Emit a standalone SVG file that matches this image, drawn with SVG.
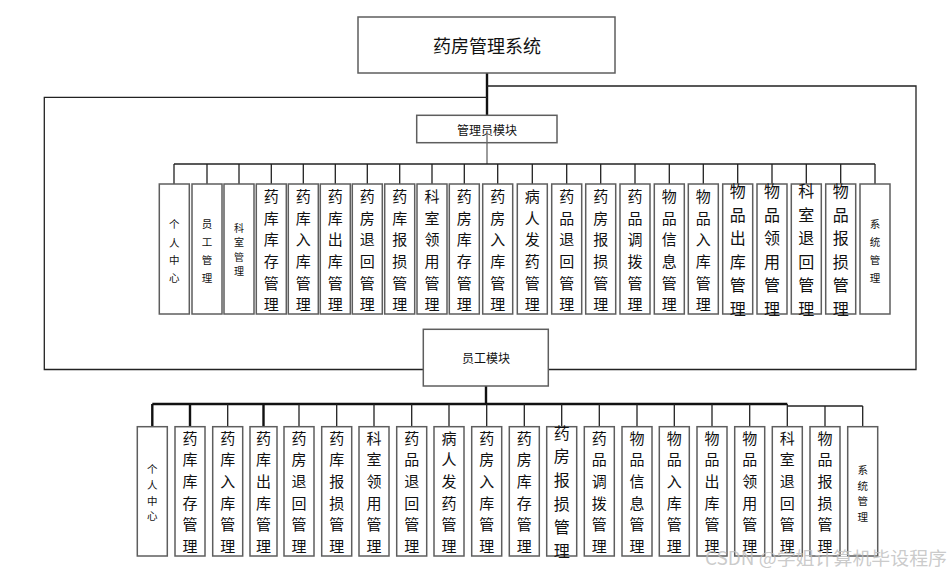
<svg xmlns="http://www.w3.org/2000/svg" width="950" height="575" viewBox="0 0 950 575">
<style>
.box{fill:#fff;stroke:#5e5e5e;stroke-width:1.5}
.ln{fill:none;stroke:#222;stroke-width:1.3}
.thk{fill:none;stroke:#111;stroke-width:2.4}
.t{font-family:"Noto Sans CJK SC","Noto Sans CJK JP",sans-serif;fill:#111;text-anchor:middle;dominant-baseline:central}
.b{font-size:15px}
.c{font-size:16px}
.s{font-size:10.5px}
.m{font-size:12px}
</style>
<g id="connectors">
<path class="thk" d="M487 73V115"/>
<path class="ln" d="M487 86H916V369.5H548"/>
<path class="ln" d="M487 97.3H44.3V369.5H423"/>
<path class="ln" style="stroke:#666" d="M487 132V164"/>
<path class="ln" d="M174 164H875"/>
<path class="ln" d="M174 164V184M207 164V184M239 164V184M271.3 164V184M303.3 164V184M335.3 164V184M367.3 164V184M399.7 164V184M432 164V184M464.3 164V184M497.7 164V184M532.3 164V184M566.7 164V184M600.7 164V184M635 164V184M669.3 164V184M703.3 164V184M737.7 164V184M772 164V184M806.3 164V184M840.7 164V184M875 164V184"/>
<path class="thk" d="M486 386V404"/>
<path class="thk" d="M152.3 404H787.3"/>
<path class="ln" d="M787.3 404V426.7"/>
<path class="ln" d="M787.3 406H862.7"/>
<path class="thk" d="M152.3 404V426.7M190 404V426.7M263.5 404V426.7"/>
<path class="ln" d="M227.7 404V426.7M299 404V426.7M336.7 404V426.7M374 404V426.7M411.7 404V426.7M449 404V426.7M486.7 404V426.7M524.3 404V426.7M561.7 404V426.7M599.3 404V426.7M637 404V426.7M674.3 404V426.7M712 404V426.7M749.7 404V426.7M825 406V426.7M862.7 406V426.7"/>
</g>
<g id="root"><rect class="box" x="358" y="17" width="257" height="56"/><text class="t" x="487" y="45" font-size="18">药房管理系统</text></g>
<g id="admin"><rect class="box" x="416.7" y="115.3" width="140.3" height="27.4"/><text class="t m" x="487" y="129.3">管理员模块</text></g>
<path class="ln" style="stroke:#666" d="M487 133V143"/>
<g id="staff"><rect class="box" x="423.3" y="329.3" width="125" height="56.7"/><text class="t m" x="486" y="357.7">员工模块</text></g>

<g id="a1"><rect class="box" x="159.3" y="184" width="30" height="130"/><text class="t s"><tspan x="174.3" y="222.7">个</tspan><tspan x="174.3" y="241.7">人</tspan><tspan x="174.3" y="259">中</tspan><tspan x="174.3" y="277.3">心</tspan></text></g>
<g id="a2"><rect class="box" x="192" y="184" width="30" height="130"/><text class="t s"><tspan x="207" y="223.3">员</tspan><tspan x="207" y="241">工</tspan><tspan x="207" y="259.3">管</tspan><tspan x="207" y="276.7">理</tspan></text></g>
<g id="a3"><rect class="box" x="224" y="184" width="30" height="130"/><text class="t" font-size="10"><tspan x="239" y="226.7">科</tspan><tspan x="239" y="241.3">室</tspan><tspan x="239" y="255.7">管</tspan><tspan x="239" y="270">理</tspan></text></g>
<g id="a4"><rect class="box" x="256.3" y="184" width="30" height="130"/><text class="t b"><tspan x="271.3" y="195">药</tspan><tspan x="271.3" y="216.7">库</tspan><tspan x="271.3" y="238.3">库</tspan><tspan x="271.3" y="260">存</tspan><tspan x="271.3" y="281.7">管</tspan><tspan x="271.3" y="303.3">理</tspan></text></g>
<g id="a5"><rect class="box" x="288.3" y="184" width="30" height="130"/><text class="t b"><tspan x="303.3" y="195">药</tspan><tspan x="303.3" y="216.7">库</tspan><tspan x="303.3" y="238.3">入</tspan><tspan x="303.3" y="260">库</tspan><tspan x="303.3" y="281.7">管</tspan><tspan x="303.3" y="303.3">理</tspan></text></g>
<g id="a6"><rect class="box" x="320.3" y="184" width="30" height="130"/><text class="t b"><tspan x="335.3" y="195">药</tspan><tspan x="335.3" y="216.7">库</tspan><tspan x="335.3" y="238.3">出</tspan><tspan x="335.3" y="260">库</tspan><tspan x="335.3" y="281.7">管</tspan><tspan x="335.3" y="303.3">理</tspan></text></g>
<g id="a7"><rect class="box" x="352.3" y="184" width="30" height="130"/><text class="t b"><tspan x="367.3" y="195">药</tspan><tspan x="367.3" y="216.7">房</tspan><tspan x="367.3" y="238.3">退</tspan><tspan x="367.3" y="260">回</tspan><tspan x="367.3" y="281.7">管</tspan><tspan x="367.3" y="303.3">理</tspan></text></g>
<g id="a8"><rect class="box" x="384.7" y="184" width="30" height="130"/><text class="t b"><tspan x="399.7" y="195">药</tspan><tspan x="399.7" y="216.7">库</tspan><tspan x="399.7" y="238.3">报</tspan><tspan x="399.7" y="260">损</tspan><tspan x="399.7" y="281.7">管</tspan><tspan x="399.7" y="303.3">理</tspan></text></g>
<g id="a9"><rect class="box" x="417" y="184" width="30" height="130"/><text class="t b"><tspan x="432" y="195">科</tspan><tspan x="432" y="216.7">室</tspan><tspan x="432" y="238.3">领</tspan><tspan x="432" y="260">用</tspan><tspan x="432" y="281.7">管</tspan><tspan x="432" y="303.3">理</tspan></text></g>
<g id="a10"><rect class="box" x="449.3" y="184" width="30" height="130"/><text class="t b"><tspan x="464.3" y="195">药</tspan><tspan x="464.3" y="216.7">房</tspan><tspan x="464.3" y="238.3">库</tspan><tspan x="464.3" y="260">存</tspan><tspan x="464.3" y="281.7">管</tspan><tspan x="464.3" y="303.3">理</tspan></text></g>
<g id="a11"><rect class="box" x="482.7" y="184" width="30" height="130"/><text class="t b"><tspan x="497.7" y="195">药</tspan><tspan x="497.7" y="216.7">房</tspan><tspan x="497.7" y="238.3">入</tspan><tspan x="497.7" y="260">库</tspan><tspan x="497.7" y="281.7">管</tspan><tspan x="497.7" y="303.3">理</tspan></text></g>
<g id="a12"><rect class="box" x="517.3" y="184" width="30" height="130"/><text class="t b"><tspan x="532.3" y="195">病</tspan><tspan x="532.3" y="216.7">人</tspan><tspan x="532.3" y="238.3">发</tspan><tspan x="532.3" y="260">药</tspan><tspan x="532.3" y="281.7">管</tspan><tspan x="532.3" y="303.3">理</tspan></text></g>
<g id="a13"><rect class="box" x="551.7" y="184" width="30" height="130"/><text class="t b"><tspan x="566.7" y="195">药</tspan><tspan x="566.7" y="216.7">品</tspan><tspan x="566.7" y="238.3">退</tspan><tspan x="566.7" y="260">回</tspan><tspan x="566.7" y="281.7">管</tspan><tspan x="566.7" y="303.3">理</tspan></text></g>
<g id="a14"><rect class="box" x="585.7" y="184" width="30" height="130"/><text class="t b"><tspan x="600.7" y="195">药</tspan><tspan x="600.7" y="216.7">房</tspan><tspan x="600.7" y="238.3">报</tspan><tspan x="600.7" y="260">损</tspan><tspan x="600.7" y="281.7">管</tspan><tspan x="600.7" y="303.3">理</tspan></text></g>
<g id="a15"><rect class="box" x="620" y="184" width="30" height="130"/><text class="t b"><tspan x="635" y="195">药</tspan><tspan x="635" y="216.7">品</tspan><tspan x="635" y="238.3">调</tspan><tspan x="635" y="260">拨</tspan><tspan x="635" y="281.7">管</tspan><tspan x="635" y="303.3">理</tspan></text></g>
<g id="a16"><rect class="box" x="654.3" y="184" width="30" height="130"/><text class="t b"><tspan x="669.3" y="195">物</tspan><tspan x="669.3" y="216.7">品</tspan><tspan x="669.3" y="238.3">信</tspan><tspan x="669.3" y="260">息</tspan><tspan x="669.3" y="281.7">管</tspan><tspan x="669.3" y="303.3">理</tspan></text></g>
<g id="a17"><rect class="box" x="688.3" y="184" width="30" height="130"/><text class="t b"><tspan x="703.3" y="195">物</tspan><tspan x="703.3" y="216.7">品</tspan><tspan x="703.3" y="238.3">入</tspan><tspan x="703.3" y="260">库</tspan><tspan x="703.3" y="281.7">管</tspan><tspan x="703.3" y="303.3">理</tspan></text></g>
<g id="a18"><rect class="box" x="722.7" y="184" width="30" height="130"/><text class="t c"><tspan x="737.7" y="190">物</tspan><tspan x="737.7" y="213.6">品</tspan><tspan x="737.7" y="237.2">出</tspan><tspan x="737.7" y="260.8">库</tspan><tspan x="737.7" y="284.4">管</tspan><tspan x="737.7" y="308">理</tspan></text></g>
<g id="a19"><rect class="box" x="757" y="184" width="30" height="130"/><text class="t c"><tspan x="772" y="190">物</tspan><tspan x="772" y="213.6">品</tspan><tspan x="772" y="237.2">领</tspan><tspan x="772" y="260.8">用</tspan><tspan x="772" y="284.4">管</tspan><tspan x="772" y="308">理</tspan></text></g>
<g id="a20"><rect class="box" x="791.3" y="184" width="30" height="130"/><text class="t c"><tspan x="806.3" y="190">科</tspan><tspan x="806.3" y="213.6">室</tspan><tspan x="806.3" y="237.2">退</tspan><tspan x="806.3" y="260.8">回</tspan><tspan x="806.3" y="284.4">管</tspan><tspan x="806.3" y="308">理</tspan></text></g>
<g id="a21"><rect class="box" x="825.7" y="184" width="30" height="130"/><text class="t c"><tspan x="840.7" y="190">物</tspan><tspan x="840.7" y="213.6">品</tspan><tspan x="840.7" y="237.2">报</tspan><tspan x="840.7" y="260.8">损</tspan><tspan x="840.7" y="284.4">管</tspan><tspan x="840.7" y="308">理</tspan></text></g>
<g id="a22"><rect class="box" x="860" y="184" width="30" height="130"/><text class="t s"><tspan x="875" y="223">系</tspan><tspan x="875" y="240.5">统</tspan><tspan x="875" y="258.5">管</tspan><tspan x="875" y="276.7">理</tspan></text></g>

<g id="s1"><rect class="box" x="137.3" y="426.7" width="30" height="129.3"/><text class="t s"><tspan x="152.3" y="468">个</tspan><tspan x="152.3" y="484">人</tspan><tspan x="152.3" y="499.5">中</tspan><tspan x="152.3" y="515">心</tspan></text></g>
<g id="s2"><rect class="box" x="175" y="426.7" width="30" height="129.3"/><text class="t b"><tspan x="190" y="436.7">药</tspan><tspan x="190" y="458.3">库</tspan><tspan x="190" y="480">库</tspan><tspan x="190" y="501.7">存</tspan><tspan x="190" y="523.3">管</tspan><tspan x="190" y="545">理</tspan></text></g>
<g id="s3"><rect class="box" x="212.7" y="426.7" width="30" height="129.3"/><text class="t b"><tspan x="227.7" y="436.7">药</tspan><tspan x="227.7" y="458.3">库</tspan><tspan x="227.7" y="480">入</tspan><tspan x="227.7" y="501.7">库</tspan><tspan x="227.7" y="523.3">管</tspan><tspan x="227.7" y="545">理</tspan></text></g>
<g id="s4"><rect class="box" x="250" y="426.7" width="27" height="129.3"/><text class="t b"><tspan x="263.5" y="436.7">药</tspan><tspan x="263.5" y="458.3">库</tspan><tspan x="263.5" y="480">出</tspan><tspan x="263.5" y="501.7">库</tspan><tspan x="263.5" y="523.3">管</tspan><tspan x="263.5" y="545">理</tspan></text></g>
<g id="s5"><rect class="box" x="284" y="426.7" width="30" height="129.3"/><text class="t b"><tspan x="299" y="436.7">药</tspan><tspan x="299" y="458.3">房</tspan><tspan x="299" y="480">退</tspan><tspan x="299" y="501.7">回</tspan><tspan x="299" y="523.3">管</tspan><tspan x="299" y="545">理</tspan></text></g>
<g id="s6"><rect class="box" x="321.7" y="426.7" width="30" height="129.3"/><text class="t b"><tspan x="336.7" y="436.7">药</tspan><tspan x="336.7" y="458.3">库</tspan><tspan x="336.7" y="480">报</tspan><tspan x="336.7" y="501.7">损</tspan><tspan x="336.7" y="523.3">管</tspan><tspan x="336.7" y="545">理</tspan></text></g>
<g id="s7"><rect class="box" x="359" y="426.7" width="30" height="129.3"/><text class="t b"><tspan x="374" y="436.7">科</tspan><tspan x="374" y="458.3">室</tspan><tspan x="374" y="480">领</tspan><tspan x="374" y="501.7">用</tspan><tspan x="374" y="523.3">管</tspan><tspan x="374" y="545">理</tspan></text></g>
<g id="s8"><rect class="box" x="396.7" y="426.7" width="30" height="129.3"/><text class="t b"><tspan x="411.7" y="436.7">药</tspan><tspan x="411.7" y="458.3">品</tspan><tspan x="411.7" y="480">退</tspan><tspan x="411.7" y="501.7">回</tspan><tspan x="411.7" y="523.3">管</tspan><tspan x="411.7" y="545">理</tspan></text></g>
<g id="s9"><rect class="box" x="434" y="426.7" width="30" height="129.3"/><text class="t b"><tspan x="449" y="436.7">病</tspan><tspan x="449" y="458.3">人</tspan><tspan x="449" y="480">发</tspan><tspan x="449" y="501.7">药</tspan><tspan x="449" y="523.3">管</tspan><tspan x="449" y="545">理</tspan></text></g>
<g id="s10"><rect class="box" x="471.7" y="426.7" width="30" height="129.3"/><text class="t b"><tspan x="486.7" y="436.7">药</tspan><tspan x="486.7" y="458.3">房</tspan><tspan x="486.7" y="480">入</tspan><tspan x="486.7" y="501.7">库</tspan><tspan x="486.7" y="523.3">管</tspan><tspan x="486.7" y="545">理</tspan></text></g>
<g id="s11"><rect class="box" x="509.3" y="426.7" width="30" height="129.3"/><text class="t b"><tspan x="524.3" y="436.7">药</tspan><tspan x="524.3" y="458.3">房</tspan><tspan x="524.3" y="480">库</tspan><tspan x="524.3" y="501.7">存</tspan><tspan x="524.3" y="523.3">管</tspan><tspan x="524.3" y="545">理</tspan></text></g>
<g id="s12"><rect class="box" x="546.7" y="426.7" width="30" height="129.3"/><text class="t c"><tspan x="561.7" y="431.7">药</tspan><tspan x="561.7" y="455.3">房</tspan><tspan x="561.7" y="478.9">报</tspan><tspan x="561.7" y="502.5">损</tspan><tspan x="561.7" y="526.1">管</tspan><tspan x="561.7" y="549.7">理</tspan></text></g>
<g id="s13"><rect class="box" x="584.3" y="426.7" width="30" height="129.3"/><text class="t b"><tspan x="599.3" y="436.7">药</tspan><tspan x="599.3" y="458.3">品</tspan><tspan x="599.3" y="480">调</tspan><tspan x="599.3" y="501.7">拨</tspan><tspan x="599.3" y="523.3">管</tspan><tspan x="599.3" y="545">理</tspan></text></g>
<g id="s14"><rect class="box" x="622" y="426.7" width="30" height="129.3"/><text class="t b"><tspan x="637" y="436.7">物</tspan><tspan x="637" y="458.3">品</tspan><tspan x="637" y="480">信</tspan><tspan x="637" y="501.7">息</tspan><tspan x="637" y="523.3">管</tspan><tspan x="637" y="545">理</tspan></text></g>
<g id="s15"><rect class="box" x="659.3" y="426.7" width="30" height="129.3"/><text class="t b"><tspan x="674.3" y="436.7">物</tspan><tspan x="674.3" y="458.3">品</tspan><tspan x="674.3" y="480">入</tspan><tspan x="674.3" y="501.7">库</tspan><tspan x="674.3" y="523.3">管</tspan><tspan x="674.3" y="545">理</tspan></text></g>
<g id="s16"><rect class="box" x="697" y="426.7" width="30" height="129.3"/><text class="t b"><tspan x="712" y="436.7">物</tspan><tspan x="712" y="458.3">品</tspan><tspan x="712" y="480">出</tspan><tspan x="712" y="501.7">库</tspan><tspan x="712" y="523.3">管</tspan><tspan x="712" y="545">理</tspan></text></g>
<g id="s17"><rect class="box" x="734.7" y="426.7" width="30" height="129.3"/><text class="t b"><tspan x="749.7" y="436.7">物</tspan><tspan x="749.7" y="458.3">品</tspan><tspan x="749.7" y="480">领</tspan><tspan x="749.7" y="501.7">用</tspan><tspan x="749.7" y="523.3">管</tspan><tspan x="749.7" y="545">理</tspan></text></g>
<g id="s18"><rect class="box" x="772.3" y="426.7" width="30" height="129.3"/><text class="t b"><tspan x="787.3" y="436.7">科</tspan><tspan x="787.3" y="458.3">室</tspan><tspan x="787.3" y="480">退</tspan><tspan x="787.3" y="501.7">回</tspan><tspan x="787.3" y="523.3">管</tspan><tspan x="787.3" y="545">理</tspan></text></g>
<g id="s19"><rect class="box" x="810" y="426.7" width="30" height="129.3"/><text class="t b"><tspan x="825" y="436.7">物</tspan><tspan x="825" y="458.3">品</tspan><tspan x="825" y="480">报</tspan><tspan x="825" y="501.7">损</tspan><tspan x="825" y="523.3">管</tspan><tspan x="825" y="545">理</tspan></text></g>
<g id="s20"><rect class="box" x="847.7" y="426.7" width="30" height="129.3"/><text class="t s"><tspan x="862.7" y="469">系</tspan><tspan x="862.7" y="484.5">统</tspan><tspan x="862.7" y="500">管</tspan><tspan x="862.7" y="515.5">理</tspan></text></g>

<text x="705" y="557" textLength="242" lengthAdjust="spacingAndGlyphs" font-family="Noto Sans CJK SC, Liberation Sans, sans-serif" font-size="18" fill="#bdbdbd" fill-opacity="0.8" dominant-baseline="central">CSDN @学姐计算机毕设程序</text>
</svg>
